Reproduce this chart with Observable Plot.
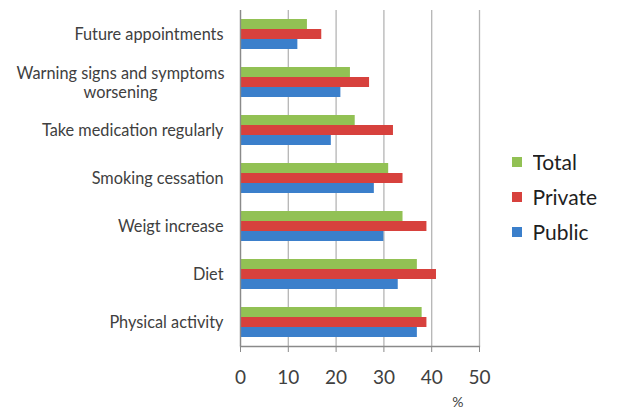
<!DOCTYPE html>
<html>
<head>
<meta charset="utf-8">
<script src="https://cdn.jsdelivr.net/npm/d3@7"></script>
<script src="https://cdn.jsdelivr.net/npm/@observablehq/plot@0.6"></script>
<style>
  html, body { margin: 0; padding: 0; background: #fff; }
  #wrap { position: relative; width: 632px; height: 409px; overflow: hidden; background: #fff; }
  #chart { position: absolute; left: 0; top: 0; }
  #legend { position: absolute; left: 512px; top: 149px; }
  .lg-swatches { font-family: Lato, sans-serif; font-size: 21px; color: #1f1f1f; }
  .lg-swatch { margin-bottom: 9px; }
</style>
</head>
<body>
<div id="wrap"><div id="chart"></div><div id="legend"></div></div>
<script>
const categories = [
  "Future appointments",
  "Warning signs and symptoms\nworsening",
  "Take medication regularly",
  "Smoking cessation",
  "Weigt increase",
  "Diet",
  "Physical activity"
];
const series = ["Total", "Private", "Public"];
const totalValues   = [14, 23, 24, 31, 34, 37, 38];
const privateValues = [17, 27, 32, 34, 39, 41, 39];
const publicValues  = [12, 21, 19, 28, 30, 33, 37];
const xTicks = [0, 10, 20, 30, 40, 50];
const xLabel = "%";
const colors = ["#92c154", "#d7413d", "#3b7fcb"];

const valuesBySeries = [totalValues, privateValues, publicValues];
const data = categories.flatMap((c, i) =>
  series.map((s, j) => ({category: c, series: s, value: valuesBySeries[j][i]}))
);
const twoLine = categories.filter(c => c.includes("\n"));
const oneLine = categories.filter(c => !c.includes("\n"));

const chart = Plot.plot({
  width: 505,
  height: 409,
  marginLeft: 240,
  marginRight: 26,
  marginTop: 8,
  marginBottom: 61,
  style: {fontFamily: "Lato, sans-serif", color: "#404040", background: "white"},
  x: {domain: [0, 50]},
  y: {domain: series, axis: null, paddingInner: 0, paddingOuter: 0.73},
  fy: {domain: categories, padding: 0},
  color: {domain: series, range: colors},
  marks: [
    Plot.gridX(xTicks, {stroke: "#b5b5b5", strokeOpacity: 1, strokeWidth: 1.3}),
    Plot.barX(data, {fy: "category", y: "series", x: "value", fill: "series"}),
    Plot.ruleX([0], {stroke: "#8a8a8a", strokeWidth: 1.3}),
    Plot.frame({anchor: "bottom", facetAnchor: "bottom", stroke: "#8a8a8a", strokeWidth: 1.3}),
    Plot.axisX(xTicks, {tickSize: 6, tickPadding: 18, fontSize: 19, label: null, stroke: "#8a8a8a", fill: "#404040"}),
    Plot.text([xLabel], {fy: () => categories[categories.length - 1], frameAnchor: "bottom-right", dy: 60, dx: -16, fontSize: 14, fill: "#404040"}),
    Plot.axisFy({anchor: "left", ticks: oneLine, tickSize: 0, tickPadding: 17, fontSize: 16.3, label: null, fill: "#404040"}),
    Plot.axisFy({anchor: "left", ticks: twoLine, tickSize: 0, tickPadding: 17, fontSize: 16.3, label: null, fill: "#404040", textAnchor: "middle", dx: -103, lineHeight: 1.15})
  ]
});
document.getElementById("chart").append(chart);

const legend = Plot.legend({
  color: {domain: series, range: colors},
  legend: "swatches",
  columns: 1,
  swatchSize: 10,
  className: "lg"
});
document.getElementById("legend").append(legend);
</script>
</body>
</html>
